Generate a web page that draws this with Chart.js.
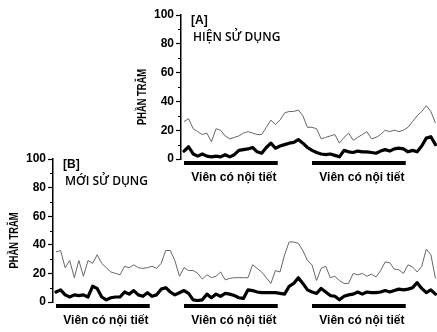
<!DOCTYPE html>
<html>
<head>
<meta charset="utf-8">
<script src="https://cdn.jsdelivr.net/npm/chart.js"></script>
<style>
body { margin: 0; background: #fff; }
#wrap { position: relative; width: 437px; height: 332px; }
canvas { position: absolute; left: 0; top: 0; }
</style>
</head>
<body>
<div id="wrap">
  <canvas id="chartA" width="437" height="332"></canvas>
  <canvas id="chartB" width="437" height="332"></canvas>
</div>
<script>
// ngày (trục x) - A bắt đầu từ ngày 28, B từ ngày 0
var firstDayA = 28;
var firstDayB = 0;

// [A] HIỆN SỬ DỤNG
var thinA = [26,28,21,19,17,18,12,21,20,16,14,15,16,18,19,18,17,17,22,27,24,27,32,33,33,34,30,22,
             22,21,14,15,16,17,11,15,18,13,15,17,19,14,15,17,20,19,20,19,20,22,26,30,33,37,33,25];
var thickA = [5.5,8.5,3.5,2,3.5,2,1.5,2,1.5,3,1.5,3,6,6.5,7,8,5,4,8,11,7.5,9,10,11,11.5,13.5,11,8,
              6,4.5,3.5,3,3.5,2.5,1.5,6,5,4.5,5.5,5,5,4.5,4,5.5,6.5,5.5,7,7.5,7,5,6,5,9,14.5,15.5,10];

// [B] MỚI SỬ DỤNG
var thinB = [35,36,24,29,17,29,18,29,27,33,27,24,21,20,19,25,24,26,24,23.5,24,25,23.5,27,36,36,29,18,
             24,22,22,20,16,19,17,18,21,15.5,16.5,17,17,17,17,26,23.5,21,17,13,22,21,33,42,42,41,36,29,
             26,15,23.5,25,17,18,15,13,13,20,19,20,18,19.5,17.5,22,28,27.5,23,22.5,20,26,24.5,21,25,37,33,16.5];
var thickB = [7,8.5,5,3.5,5,4.5,5,3.5,11,9.5,3.5,1.5,3,3.5,3.5,7,5.5,8,5,4,6.5,4,5,9,10,7,5,6.5,
              8,6,1.5,1,1.5,5.5,3,5.5,4,6,5.5,4.5,3,2.5,8.5,8,7,6.5,6.5,6.5,6.5,6,5.5,11,13,17,13,8.5,
              7,6,9.5,7,4.5,4,1.5,4,5,5.5,7,5.5,7,6.5,6.5,7,8,7,8,9,8.5,9,10,13.5,9.5,6.5,8.5,5.5];

// thời gian dùng viên có nội tiết (ngày bắt đầu, ngày kết thúc)
var pillsA = [[28, 48.5], [56, 76.5]];
var pillsB = [[0, 20.5], [28, 48.5], [56, 76.5]];
var pillLabel = 'Viên có nội tiết';
var yTitle = 'PHẦN TRĂM';

function toPoints(vals, start) {
  return vals.map(function (v, i) { return { x: start + i, y: v }; });
}

var decor = {
  id: 'decor',
  afterDraw: function (chart, args, opts) {
    var ctx = chart.ctx, a = chart.chartArea, x = chart.scales.x, y = chart.scales.y;
    ctx.save();
    // vạch phụ
    ctx.strokeStyle = '#000';
    ctx.lineWidth = 1;
    for (var v = 10; v < 100; v += 20) {
      var py = Math.round(y.getPixelForValue(v)) + 0.5;
      ctx.beginPath(); ctx.moveTo(a.left - 3, py); ctx.lineTo(a.left, py); ctx.stroke();
    }
    // thanh đen + nhãn
    ctx.fillStyle = '#000';
    ctx.font = 'bold 12px "Liberation Sans", Arial, sans-serif';
    ctx.textAlign = 'center';
    ctx.textBaseline = 'middle';
    opts.pills.forEach(function (p) {
      var x0 = x.getPixelForValue(p[0]), x1 = x.getPixelForValue(p[1]);
      ctx.fillRect(x0, a.bottom + 2, x1 - x0, 4);
      ctx.fillText(pillLabel, (x0 + x1) / 2 + 3, a.bottom + 19);
    });
    // tiêu đề
    ctx.textAlign = 'left';
    ctx.font = 'bold 12px "Liberation Sans", Arial, sans-serif';
    ctx.fillText(opts.tag, a.left + 10, a.top + 6);
    ctx.font = '600 12px "Open Sans", sans-serif';
    ctx.fillText(opts.name, a.left + 12, a.top + 23, opts.nameWidth);
    // tiêu đề trục y
    ctx.translate(a.left - 38.5, (a.top + a.bottom) / 2 + 10);
    ctx.rotate(-Math.PI / 2);
    ctx.textAlign = 'center';
    ctx.font = 'bold 12px "Liberation Sans", Arial, sans-serif';
    ctx.fillText(yTitle, 0, 0, 56);
    ctx.restore();
  }
};

function makeChart(id, thin, thick, start, xMin, yWidth, pad, deco) {
  return new Chart(document.getElementById(id), {
    type: 'line',
    data: {
      datasets: [
        { data: toPoints(thin, start), borderColor: '#666', borderWidth: 1, pointRadius: 0, tension: 0 },
        { data: toPoints(thick, start), borderColor: '#000', borderWidth: 3.2, pointRadius: 0, tension: 0,
          borderJoinStyle: 'round', borderCapStyle: 'round' }
      ]
    },
    options: {
      responsive: false,
      animation: false,
      layout: { padding: pad },
      plugins: { legend: { display: false }, tooltip: { enabled: false }, decor: deco },
      scales: {
        x: { type: 'linear', min: xMin, max: 83.34, display: false },
        y: {
          min: 0, max: 100,
          afterFit: function (s) { s.width = yWidth; },
          ticks: { stepSize: 20, autoSkip: false, color: '#000', padding: 2,
                   font: { family: '"Liberation Sans", Arial, sans-serif', size: 12, weight: 'bold' } },
          grid: { drawOnChartArea: false, tickLength: 5, tickColor: '#000', tickWidth: 1.2 },
          border: { color: '#000', width: 1.5 }
        }
      }
    },
    plugins: [decor]
  });
}

makeChart('chartA', thinA, thickA, firstDayA, 27.34, 181,
  { top: 15, bottom: 173, left: 0, right: 0 },
  { pills: pillsA, tag: '[A]', name: 'HIỆN SỬ DỤNG', nameWidth: 94 });

makeChart('chartB', thinB, thickB, firstDayB, -0.66, 53,
  { top: 159, bottom: 30, left: 0, right: 0 },
  { pills: pillsB, tag: '[B]', name: 'MỚI SỬ DỤNG', nameWidth: 87 });
</script>
</body>
</html>
